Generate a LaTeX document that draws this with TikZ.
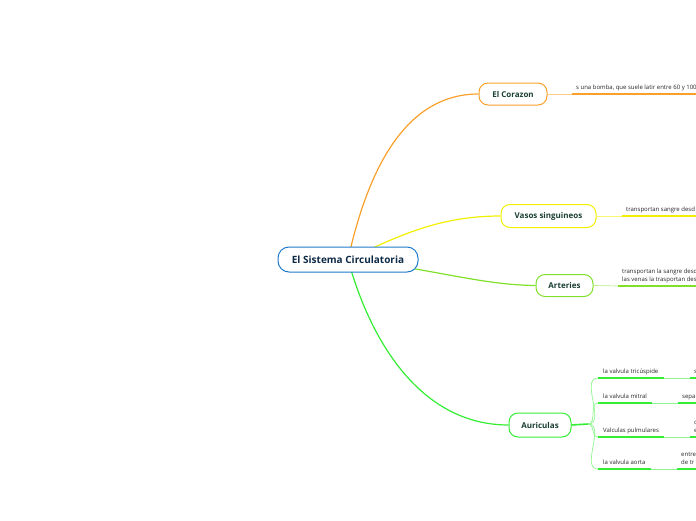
\documentclass[tikz,border=0pt]{standalone}
\usepackage{fontspec}
\setmainfont{Open Sans}
\usetikzlibrary{backgrounds}
\definecolor{rootblue}{HTML}{1F7BCB}
\definecolor{roottxt}{HTML}{0D2A45}
\definecolor{toptxt}{HTML}{1A3F35}
\definecolor{corC}{HTML}{F9A02A}
\definecolor{vasC}{HTML}{F2F000}
\definecolor{artC}{HTML}{80E02A}
\definecolor{aurC}{HTML}{33EE33}

\begin{document}
\begin{tikzpicture}[x=1pt,y=-1pt,
  root/.style={draw=rootblue, fill=white, line width=1pt, rounded corners=11pt,
    minimum width=140pt, minimum height=25pt, text=roottxt,
    font=\bfseries\fontsize{10}{12}\selectfont},
  topic/.style={draw=#1, fill=white, line width=1pt, rounded corners=9pt,
    minimum height=22pt, text=toptxt, font=\bfseries\fontsize{8}{10}\selectfont},
  leaf/.style={anchor=south west, inner xsep=4pt, inner ysep=2.5pt,
    text height=4.5pt, text depth=1.5pt, align=left, text=black!85,
    font=\fontsize{6}{8}\selectfont},
  branch/.style={draw=#1, line width=1.2pt},
  twig/.style={draw=#1!55, line width=0.7pt},
  uline/.style={draw=#1, line width=1.6pt}]
\useasboundingbox (0,0) rectangle (696,520);
\clip (0,0) rectangle (696,520);

% main topics
\node[root] (root) at (348,259.5) {El Sistema Circulatoria};
\node[topic=corC, minimum width=68pt] (cor) at (513,94) {El Corazon};
\node[topic=vasC, minimum width=95pt, minimum height=23pt] (vas) at (548.5,216) {Vasos singuineos};
\node[topic=artC, minimum width=57pt] (art) at (564.5,285.5) {Arteries};
\node[topic=aurC, minimum width=62pt, minimum height=24pt] (aur) at (540,425) {Auriculas};

% leaves
\node[leaf] (corT) at (572,94) {s una bomba, que suele latir entre 60 y 100};
\node[leaf] (vasT) at (622,216) {transportan sangre desd};
\node[leaf] (artT) at (618,286) {transportan la sangre desd\\las venas la trasportan des};
\coordinate (aurJ) at (588,424);
\node[leaf, inner xsep=5pt] (tri) at (598,378) {la valvula tric\'uspide};
\node[leaf, inner xsep=5pt] (mit) at (598,403) {la valvula mitral};
\node[leaf, inner xsep=5pt] (pul) at (598,437) {Valculas pulmulares};
\node[leaf, inner xsep=5pt] (aor) at (598,469) {la valvula aorta};
\node[leaf] (triT) at (690,378) {s};
\node[leaf] (mitT) at (678,403) {sepa};
\node[leaf] (pulT) at (690,437) {c\\e};
\node[leaf] (aorT) at (677,469) {entre\\de tr};

\begin{scope}[on background layer]
\draw[branch=corC] (root.center) .. controls (370,160) and (410,94) .. (cor.west);
\draw[branch=vasC] (root.center) .. controls (400,235) and (440,216) .. (vas.west);
\draw[branch=artC] (root.center) .. controls (430,268) and (480,285) .. (art.west);
\draw[branch=aurC] (root.center) .. controls (370,340) and (420,425) .. (aur.west);
\end{scope}

\draw[twig=corC] (cor.east) -- (corT.south west);
\draw[twig=vasC] (vas.east) -- (vasT.south west);
\draw[twig=artC] (art.east) -- (artT.south west);
\draw[uline=corC] (corT.south west) -- (corT.south east);
\draw[uline=vasC] (vasT.south west) -- (vasT.south east);
\draw[uline=artC] (artT.south west) -- (artT.south east);

\draw[uline=aurC] (aur.east) -- (aurJ);
\foreach \n/\m in {tri/triT, mit/mitT, pul/pulT, aor/aorT} {
  \draw[twig=aurC] (aurJ) to[out=0, in=180] (\n.south west);
  \draw[uline=aurC] (\n.south west) -- (\n.south east);
  \draw[twig=aurC] (\n.south east) -- (\m.south west);
  \draw[uline=aurC] (\m.south west) -- (\m.south east);
}
\end{tikzpicture}
\end{document}
